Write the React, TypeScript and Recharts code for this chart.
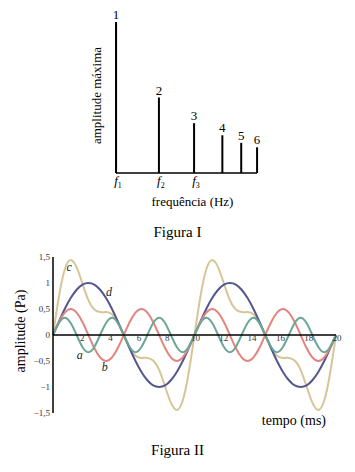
import React from 'react'
import {
  Bar,
  BarChart,
  LabelList,
  Line,
  LineChart,
  ReferenceDot,
  ReferenceLine,
  XAxis,
  YAxis
} from 'recharts'

// Figura I - spectrum
const harmonics = ['1', '2', '3', '4', '5', '6']
const freqPos = [1, 2, 2.82, 3.48, 3.92, 4.29]
const maxAmp = [1, 0.5, 0.33, 0.25, 0.2, 0.17]
const freqTicks = [1, 2, 2.82]
const freqTickSubs = ['1', '2', '3']

// Figura II - waves
const times = [
  0, 0.42, 0.83, 1.25, 1.67, 2.08, 2.5, 2.92, 3.33, 3.75, 4.17, 4.58,
  5, 5.42, 5.83, 6.25, 6.67, 7.08, 7.5, 7.92, 8.33, 8.75, 9.17, 9.58,
  10, 10.42, 10.83, 11.25, 11.67, 12.08, 12.5, 12.92, 13.33, 13.75, 14.17, 14.58,
  15, 15.42, 15.83, 16.25, 16.67, 17.08, 17.5, 17.92, 18.33, 18.75, 19.17, 19.58,
  20
]
const waveA = [
  0, 0.23, 0.33, 0.23, 0, -0.23, -0.33, -0.23,
  0, 0.23, 0.33, 0.23, 0, -0.23, -0.33, -0.23,
  0, 0.23, 0.33, 0.23, 0, -0.23, -0.33, -0.23,
  0, 0.23, 0.33, 0.23, 0, -0.23, -0.33, -0.23,
  0, 0.23, 0.33, 0.23, 0, -0.23, -0.33, -0.23,
  0, 0.23, 0.33, 0.23, 0, -0.23, -0.33, -0.23,
  0
]
const waveB = [
  0, 0.25, 0.43, 0.5, 0.43, 0.25, 0, -0.25, -0.43, -0.5, -0.43, -0.25,
  0, 0.25, 0.43, 0.5, 0.43, 0.25, 0, -0.25, -0.43, -0.5, -0.43, -0.25,
  0, 0.25, 0.43, 0.5, 0.43, 0.25, 0, -0.25, -0.43, -0.5, -0.43, -0.25,
  0, 0.25, 0.43, 0.5, 0.43, 0.25, 0, -0.25, -0.43, -0.5, -0.43, -0.25,
  0
]
const waveC = [
  0, 0.74, 1.26, 1.44, 1.3, 0.99, 0.67, 0.49, 0.44, 0.44, 0.4, 0.24,
  0, -0.24, -0.4, -0.44, -0.44, -0.49, -0.67, -0.99, -1.3, -1.44, -1.26, -0.74,
  0, 0.74, 1.26, 1.44, 1.3, 0.99, 0.67, 0.49, 0.44, 0.44, 0.4, 0.24,
  0, -0.24, -0.4, -0.44, -0.44, -0.49, -0.67, -0.99, -1.3, -1.44, -1.26, -0.74,
  0
]
const waveD = [
  0, 0.26, 0.5, 0.71, 0.87, 0.97, 1, 0.97, 0.87, 0.71, 0.5, 0.26,
  0, -0.26, -0.5, -0.71, -0.87, -0.97, -1, -0.97, -0.87, -0.71, -0.5, -0.26,
  0, 0.26, 0.5, 0.71, 0.87, 0.97, 1, 0.97, 0.87, 0.71, 0.5, 0.26,
  0, -0.26, -0.5, -0.71, -0.87, -0.97, -1, -0.97, -0.87, -0.71, -0.5, -0.26,
  0
]
const timeTicks = [2, 4, 6, 8, 10, 12, 14, 16, 18, 20]
const ampTicks = [-1.5, -1, -0.5, 0, 0.5, 1, 1.5]
const curveNames = [
  { key: 'c', t: 1.15, v: 1.31 },
  { key: 'd', t: 3.95, v: 0.83 },
  { key: 'a', t: 1.89, v: -0.38 },
  { key: 'b', t: 3.66, v: -0.61 }
]

const SERIF = '"Liberation Serif", "Times New Roman", serif'
const serif = { fontFamily: SERIF }
const PLOT2_H = 156

const spectrum = harmonics.map((n, i) => ({ n, f: freqPos[i], amp: maxAmp[i] }))
const waves = times.map((t, i) => ({
  t,
  a: waveA[i],
  b: waveB[i],
  c: waveC[i],
  d: waveD[i]
}))

const renderFreqTick = (props: any) => {
  const { x, y, index } = props
  return (
    <text x={x + 2} y={y + 12} textAnchor="middle" style={serif} fontSize={13} fill="#000">
      <tspan fontStyle="italic">f</tspan>
      <tspan fontSize={8} dy={3}>{freqTickSubs[index]}</tspan>
    </text>
  )
}

const renderTimeTick = (props: any) => {
  const { x, y, payload } = props
  return (
    <text
      x={x + 1}
      y={y - PLOT2_H / 2}
      dy="0.71em"
      textAnchor="middle"
      style={serif}
      fontSize={9}
      fill="#333"
    >
      {payload.value}
    </text>
  )
}

const renderAmpTick = (props: any) => {
  const { x, y, payload } = props
  return (
    <text x={x} y={y} dy="0.35em" textAnchor="end" style={serif} fontSize={9} fill="#333">
      {String(payload.value).replace('.', ',').replace('-', '\u2212')}
    </text>
  )
}

export default function App() {
  return (
    <div
      style={{
        position: 'absolute',
        left: 0,
        top: 0,
        width: 355,
        height: 472,
        background: '#fff',
        fontFamily: SERIF
      }}
    >
      <div style={{ position: 'absolute', left: 0, top: 0 }}>
        <BarChart
          width={355}
          height={230}
          data={spectrum}
          margin={{ top: 22, right: 98, bottom: 17, left: 115 }}
        >
          <XAxis
            type="number"
            dataKey="f"
            domain={[1, 4.29]}
            ticks={freqTicks}
            tick={renderFreqTick}
            tickLine={false}
            tickSize={0}
            tickMargin={0}
            axisLine={{ stroke: '#000', strokeWidth: 1.5 }}
            height={40}
            label={{
              content: (p: any) => (
                <text
                  x={p.viewBox.x + p.viewBox.width / 2 + 6}
                  y={p.viewBox.y + 33}
                  textAnchor="middle"
                  style={serif}
                  fontSize={13}
                  fill="#000"
                >
                  frequência (Hz)
                </text>
              )
            }}
          />
          <YAxis
            type="number"
            domain={[0, 1]}
            width={1}
            tick={false}
            tickLine={false}
            axisLine={{ stroke: '#000', strokeWidth: 1.5 }}
            label={{
              content: (p: any) => {
                const cy = p.viewBox.y + p.viewBox.height / 2 - 2
                return (
                  <text
                    x={96}
                    y={cy}
                    transform={`rotate(-90, 96, ${cy})`}
                    textAnchor="middle"
                    dominantBaseline="central"
                    style={serif}
                    fontSize={13}
                    fill="#000"
                  >
                    amplitude máxima
                  </text>
                )
              }
            }}
          />
          <Bar dataKey="amp" barSize={2} fill="#000" isAnimationActive={false}>
            <LabelList
              dataKey="n"
              position="top"
              offset={3}
              fill="#000"
              fontSize={13}
              style={serif}
            />
          </Bar>
        </BarChart>
      </div>
      <div
        style={{
          position: 'absolute',
          left: 0,
          top: 224,
          width: 355,
          textAlign: 'center',
          fontSize: 15,
          lineHeight: '16px'
        }}
      >
        Figura I
      </div>

      <div style={{ position: 'absolute', left: 0, top: 240 }}>
        <LineChart
          width={355}
          height={200}
          data={waves}
          margin={{ top: 17, right: 19, bottom: 26, left: 0 }}
        >
          <XAxis
            type="number"
            dataKey="t"
            domain={[0, 20]}
            ticks={timeTicks}
            tick={renderTimeTick}
            tickLine={false}
            tickSize={0}
            tickMargin={0}
            axisLine={false}
            height={1}
            label={{
              content: (p: any) => (
                <text
                  x={p.viewBox.x + p.viewBox.width - 10}
                  y={p.viewBox.y + 12}
                  textAnchor="end"
                  style={serif}
                  fontSize={14}
                  fill="#000"
                >
                  tempo (ms)
                </text>
              )
            }}
          />
          <YAxis
            type="number"
            domain={[-1.5, 1.5]}
            ticks={ampTicks}
            width={53}
            tickLine={false}
            tickSize={0}
            tickMargin={3}
            tick={renderAmpTick}
            axisLine={{ stroke: '#000', strokeWidth: 1.5 }}
            label={{
              content: (p: any) => {
                const cy = p.viewBox.y + p.viewBox.height / 2 - 4
                return (
                  <text
                    x={20}
                    y={cy}
                    transform={`rotate(-90, 20, ${cy})`}
                    textAnchor="middle"
                    dominantBaseline="central"
                    style={serif}
                    fontSize={14}
                    fill="#000"
                  >
                    amplitude (Pa)
                  </text>
                )
              }
            }}
          />
          <Line type="natural" dataKey="c" stroke="#d6c597" strokeWidth={2} dot={false} isAnimationActive={false} />
          <Line type="natural" dataKey="d" stroke="#56568f" strokeWidth={2} dot={false} isAnimationActive={false} />
          <Line type="natural" dataKey="b" stroke="#e3857f" strokeWidth={2} dot={false} isAnimationActive={false} />
          <Line type="natural" dataKey="a" stroke="#6ca697" strokeWidth={2} dot={false} isAnimationActive={false} />
          <ReferenceLine y={0} stroke="#000" strokeWidth={1.5} />
          {curveNames.map(c => (
            <ReferenceDot
              key={c.key}
              x={c.t}
              y={c.v}
              r={1}
              fill="none"
              stroke="none"
              label={{
                content: (p: any) => (
                  <text
                    x={p.viewBox.x + p.viewBox.width / 2}
                    y={p.viewBox.y + p.viewBox.height / 2 + 4}
                    textAnchor="middle"
                    style={{ fontFamily: SERIF, fontStyle: 'italic' }}
                    fontSize={12}
                    fill="#222"
                  >
                    {c.key}
                  </text>
                )
              }}
            />
          ))}
        </LineChart>
      </div>
      <div
        style={{
          position: 'absolute',
          left: 0,
          top: 442,
          width: 355,
          textAlign: 'center',
          fontSize: 15,
          lineHeight: '16px'
        }}
      >
        Figura II
      </div>
    </div>
  )
}
